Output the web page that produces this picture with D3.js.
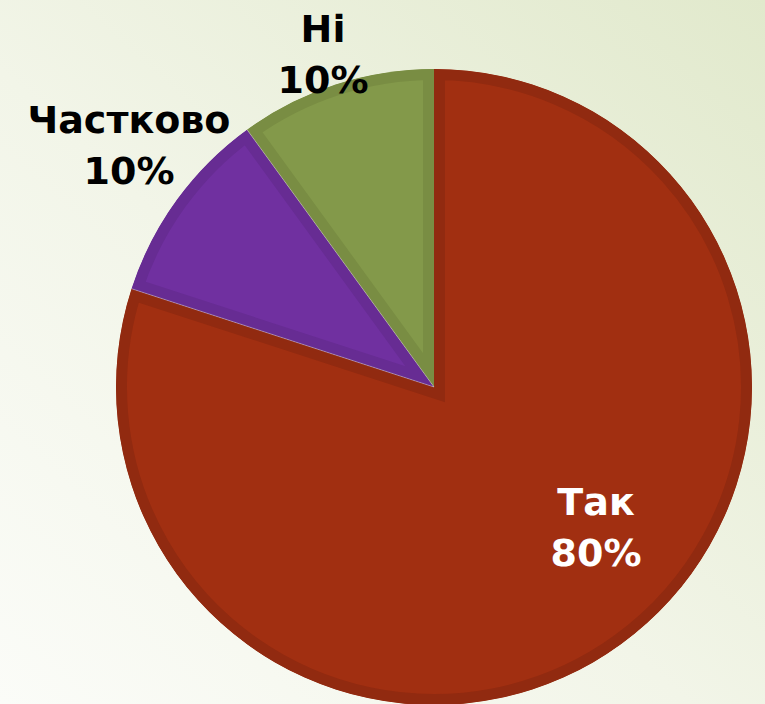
<!DOCTYPE html>
<html>
<head>
<meta charset="utf-8">
<script src="https://cdn.jsdelivr.net/npm/d3@7"></script>
<style>
  body { margin:0; overflow:hidden; }
</style>
</head>
<body>
<div id="chart"></div>
<script>
var w=765
var h=704

// data
var labels=["Так","Частково","Ні"]
var values=[80,10,10]
var colors=["#a12f11","#7030a0","#83994a"]
var borders=["#912a10","#672c93","#798d43"]
var textColors=["#ffffff","#000000","#000000"]

var cx=434
var cy=387
var r=318

var svg=d3.select("#chart")
          .append("svg")
          .attr("width",w)
          .attr("height",h);

//Background gradient
var defs=svg.append("defs");
var grad=defs.append("linearGradient")
             .attr("id","bg")
             .attr("x1","0%").attr("y1","100%")
             .attr("x2","100%").attr("y2","0%");
grad.append("stop").attr("offset","0%").attr("stop-color","#fbfcf8");
grad.append("stop").attr("offset","45%").attr("stop-color","#f2f5e8");
grad.append("stop").attr("offset","100%").attr("stop-color","#e1e9cc");

svg.append("rect")
   .attr("width",w)
   .attr("height",h)
   .attr("fill","url(#bg)");

var pie=d3.pie()
          .sort(null)
          .value(function(d) {return d;});

var arc=d3.arc()
          .innerRadius(0)
          .outerRadius(r);

var slices=pie(values);

var g=svg.append("g")
         .attr("transform","translate("+cx+","+cy+")");

//clip paths so the border stays inside each slice
defs.selectAll("clipPath")
    .data(slices)
    .enter()
    .append("clipPath")
    .attr("id",function(d,i) {return "clip"+i;})
    .append("path")
    .attr("d",arc);

//Draw slices with inner border
g.selectAll("path.slice")
 .data(slices)
 .enter()
 .append("path")
 .attr("class","slice")
 .attr("d",arc)
 .attr("fill",function(d,i) {return colors[i];})
 .attr("stroke",function(d,i) {return borders[i];})
 .attr("stroke-width",22)
 .attr("stroke-linejoin","miter")
 .attr("clip-path",function(d,i) {return "url(#clip"+i+")";});

//thin light separator lines
g.selectAll("line.sep")
 .data(slices.slice(1))
 .enter()
 .append("line")
 .attr("class","sep")
 .attr("x1",0).attr("y1",0)
 .attr("x2",function(d) {return r*Math.sin(d.startAngle);})
 .attr("y2",function(d) {return -r*Math.cos(d.startAngle);})
 .attr("stroke","#d8d0d8")
 .attr("stroke-width",0.8)
 .attr("opacity",0.6);

//Labels
var labelPos=[[596,515],[129,133],[323,42]];
var lab=svg.append("g")
           .attr("font-family","'DejaVu Sans', sans-serif")
           .attr("font-weight","bold")
           .attr("font-size","38px")
           .attr("text-anchor","middle");

slices.forEach(function(d,i) {
    lab.append("text")
       .attr("x",labelPos[i][0])
       .attr("y",labelPos[i][1])
       .attr("fill",textColors[i])
       .text(labels[i]);
    lab.append("text")
       .attr("x",labelPos[i][0])
       .attr("y",labelPos[i][1]+51)
       .attr("fill",textColors[i])
       .text(d3.format(".0%")(d.data/100));
});
</script>
</body>
</html>
